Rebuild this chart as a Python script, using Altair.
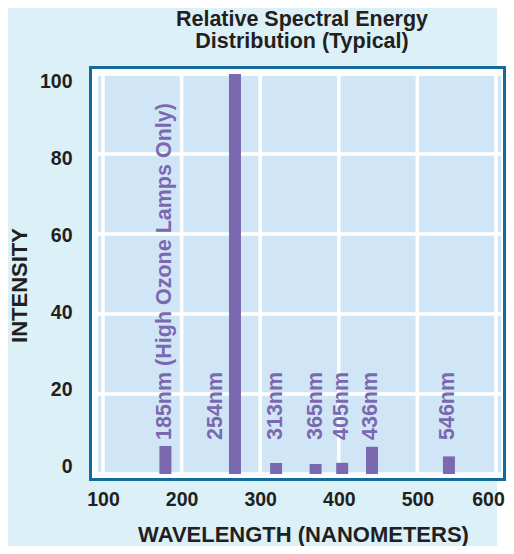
import altair as alt
import pandas as pd

# ---- data ----
bar_positions = [179.4, 267.9, 320.2, 370.5, 404.3, 442.2, 540.1]
intensities = [7.0, 100.0, 2.75, 2.5, 2.8, 6.8, 4.4]
label_texts = ["185nm (High Ozone Lamps Only)", "254nm", "313nm", "365nm",
               "405nm", "436nm", "546nm"]
label_positions = [179.4, 244.0, 320.2, 370.5, 404.3, 441.0, 539.0]
x_ticks = [100, 200, 300, 400, 500, 600]
y_ticks = [0, 20, 40, 60, 80, 100]
title_lines = ["Relative Spectral Energy", "Distribution (Typical)"]
x_title = "WAVELENGTH (NANOMETERS)"
y_title = "INTENSITY"

W, H = 403, 400
FONT = "Liberation Sans"
DARK = "#231f20"
PURPLE = "#7b69b0"

x_scale = alt.Scale(domain=[100, 600], nice=False, zero=False)
y_scale = alt.Scale(domain=[0, 100], nice=False, zero=True)

bars_df = pd.DataFrame({"wl": bar_positions, "intensity": intensities})
labels_df = pd.DataFrame({"wl": label_positions, "label": label_texts})
xt_df = pd.DataFrame({"xt": x_ticks})
yt_df = pd.DataFrame({"yt": y_ticks})
one = alt.Data(values=[{}])

x_axis = alt.Axis(
    values=x_ticks, grid=False, domain=False, ticks=False, zindex=1,
    labelPadding=16, labelFont=FONT, labelFontSize=19.5, labelFontWeight="bold",
    labelColor=DARK, labelFlush=False, labelOverlap=False, format="d",
    labelOffset={"condition": {"test": "datum.value === 600", "value": -8}, "value": 0},
    title=x_title, titleFont=FONT, titleFontSize=22, titleFontWeight="bold",
    titleColor=DARK, titleX=205, titleY=67.5, titleAlign="center",
    titleBaseline="alphabetic")
y_axis = alt.Axis(
    values=y_ticks, grid=False, domain=False, ticks=False, zindex=1,
    labelPadding=26, labelFont=FONT, labelFontSize=19.5, labelFontWeight="bold",
    labelColor=DARK, labelFlush=False, labelOverlap=False, format="d",
    labelOffset={"expr": "-7.5 + datum.value * 0.15"},
    title=y_title, titleFont=FONT, titleFontSize=22, titleFontWeight="bold",
    titleColor=DARK, titleAngle=270, titleX=-72, titleY=211,
    titleAlign="center", titleBaseline="alphabetic")

strip = alt.Chart(one).mark_rect(color="white").encode(
    x=alt.value(399), x2=alt.value(420), y=alt.value(-66), y2=alt.value(480))
frame = alt.Chart(one).mark_rect(fill="white", stroke="#146a9d", strokeWidth=3).encode(
    x=alt.value(-7.5), x2=alt.value(406.5), y=alt.value(-6.5), y2=alt.value(405.5))
cells = alt.Chart(one).mark_rect(color="#d0e6f6").encode(
    x=alt.value(0), x2=alt.value(W), y=alt.value(0), y2=alt.value(H))

vgrid = alt.Chart(xt_df).mark_rule(color="white", strokeWidth=3.5).encode(
    x=alt.X("xt:Q", scale=x_scale, axis=x_axis))
hgrid = alt.Chart(yt_df).mark_rule(color="white", strokeWidth=3.5).encode(
    y=alt.Y("yt:Q", scale=y_scale, axis=y_axis))

bars = alt.Chart(bars_df).mark_bar(orient="vertical", size=12, color=PURPLE).encode(
    x=alt.X("wl:Q", scale=x_scale, axis=x_axis),
    y=alt.Y("intensity:Q", scale=y_scale, axis=y_axis),
)

labels = alt.Chart(labels_df).mark_text(
    angle=270, align="left", baseline="middle", dx=34,
    font=FONT, fontSize=21.5, fontWeight="bold", color=PURPLE).encode(
    x=alt.X("wl:Q", scale=x_scale, axis=x_axis),
    y=alt.Y(datum=0, scale=y_scale, axis=y_axis),
    text="label:N")

chart = alt.layer(strip, frame, cells, vgrid, hgrid, bars, labels).properties(
    width=W, height=H,
    padding={"left": 90, "top": 66, "right": 5, "bottom": 72},
    autosize=alt.AutoSizeParams(type="none"),
    title=alt.TitleParams(
        text=title_lines, font=FONT, fontSize=21.5, fontWeight="bold",
        color=DARK, anchor="middle", frame="group", baseline="bottom",
        lineHeight=22.5, offset=-66.5, dx=2.5),
).configure_view(stroke=None).configure(background="#dcf0f8")

chart.save("out.html", embed_options={"renderer": "svg", "actions": False})
